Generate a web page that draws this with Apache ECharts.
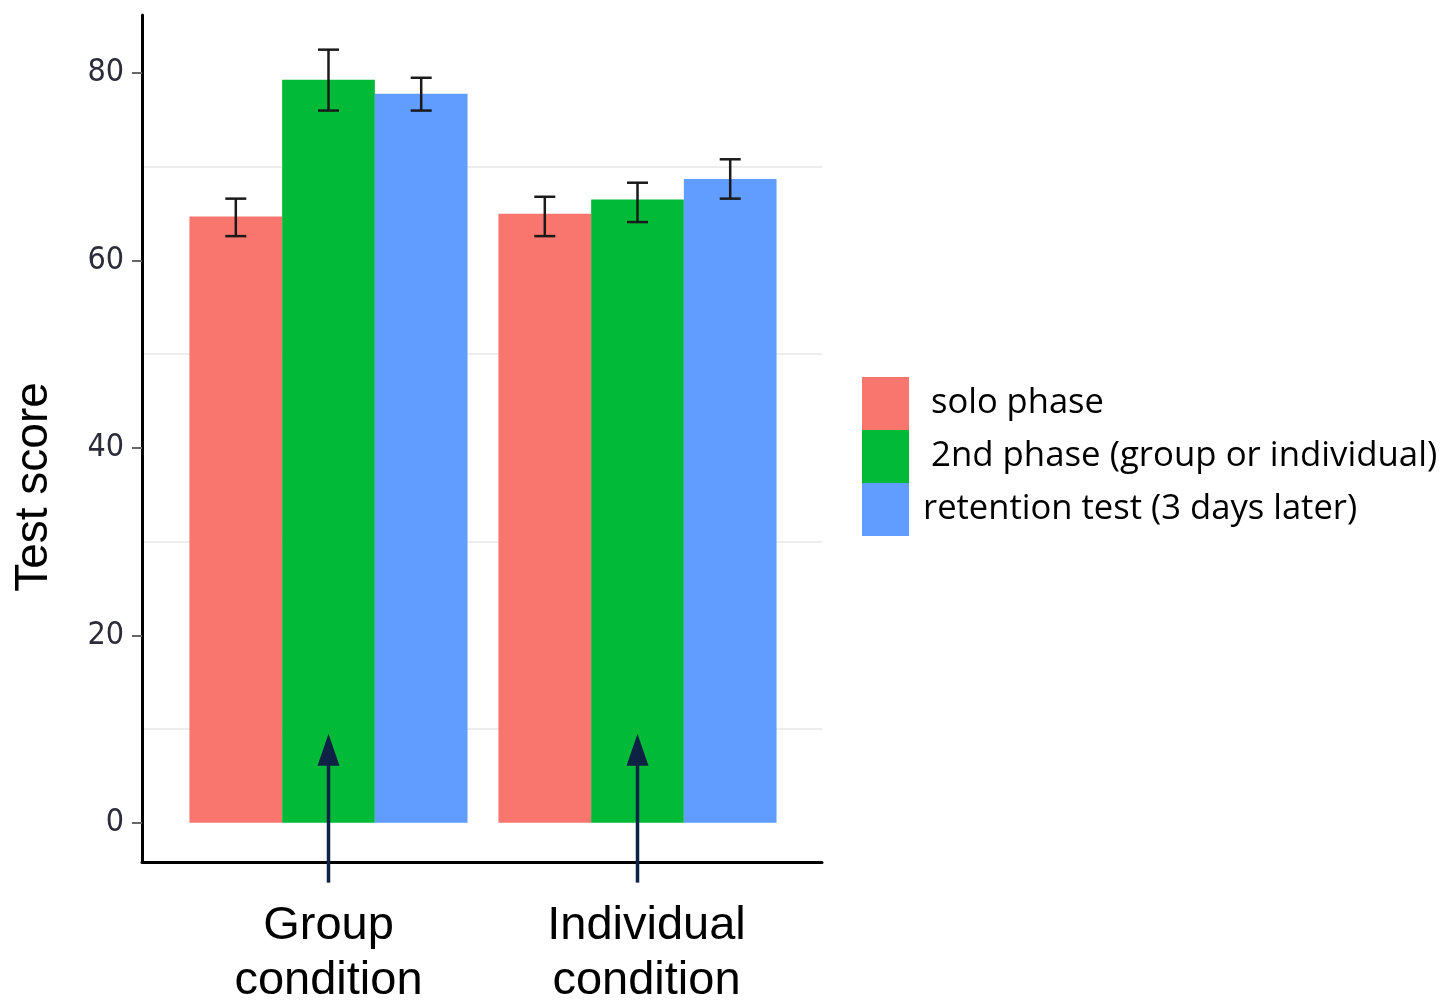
<!DOCTYPE html>
<html>
<head>
<meta charset="utf-8">
<script src="https://cdn.jsdelivr.net/npm/echarts@6/dist/echarts.min.js"></script>
<style>
  html, body { margin: 0; padding: 0; background: #fff; }
  #chart { width: 1441px; height: 1000px; }
</style>
</head>
<body>
<div id="chart"></div>
<script>
// data
const categories = ['Group\ncondition', 'Individual\ncondition']
const phases = ['solo phase', '2nd phase (group or individual)', 'retention test (3 days later)']
const soloMean = [64.7, 65.0]
const secondMean = [79.3, 66.5]
const retentionMean = [77.8, 68.7]
const soloLow = [62.6, 62.6]
const soloHigh = [66.6, 66.8]
const secondLow = [76.0, 64.1]
const secondHigh = [82.5, 68.3]
const retentionLow = [76.0, 66.6]
const retentionHigh = [79.5, 70.8]
const yTicks = [0, 20, 40, 60, 80]
const gridValues = [10, 30, 50, 70]
// arrows under the green bars: [tip, tail] in score units
const arrowTip = [9.5, 9.5]
const arrowTail = [-6.4, -6.4]

const yMin = -4.2
const yMax = 86.2
const colors = ['#F8766D', '#00BA38', '#619CFF']

const means = [soloMean, secondMean, retentionMean]
const lows = [soloLow, secondLow, retentionLow]
const highs = [soloHigh, secondHigh, retentionHigh]

const chart = echarts.init(document.getElementById('chart'))

// error bar drawn at bar k's slot
const errorSeries = (k) => ({
  type: 'custom',
  xAxisIndex: 1,
  yAxisIndex: 2,
  z: 5,
  silent: true,
  renderItem: (params, api) => {
    const band = api.size([1, 0])[0]
    const bw = band * 0.3
    const c = api.coord([api.value(0), 0])[0] + (k - 1) * bw
    const top = api.coord([api.value(0), api.value(2)])[1]
    const bot = api.coord([api.value(0), api.value(1)])[1]
    const half = 10.5
    const style = { stroke: '#1a1a1a', lineWidth: 2.5, fill: null }
    return {
      type: 'group',
      children: [
        { type: 'line', shape: { x1: c, y1: top, x2: c, y2: bot }, style },
        { type: 'line', shape: { x1: c - half, y1: top, x2: c + half, y2: top }, style },
        { type: 'line', shape: { x1: c - half, y1: bot, x2: c + half, y2: bot }, style }
      ]
    }
  },
  data: categories.map((c, i) => [i, lows[k][i], highs[k][i]])
})

const barSeries = phases.map((name, k) => ({
  name,
  type: 'bar',
  xAxisIndex: 1,
  yAxisIndex: 2,
  barWidth: '30%',
  barGap: '0%',
  itemStyle: { color: colors[k] },
  silent: true,
  data: means[k]
}))

const arrowSeries = {
  type: 'custom',
  xAxisIndex: 1,
  yAxisIndex: 2,
  z: 6,
  silent: true,
  clip: false,
  renderItem: (params, api) => {
    const x = api.coord([api.value(0), 0])[0]
    const tip = api.coord([api.value(0), api.value(1)])[1]
    const tail = api.coord([api.value(0), api.value(2)])[1]
    const headLen = 32
    const headHalf = 11
    return {
      type: 'group',
      children: [
        {
          type: 'line',
          shape: { x1: x, y1: tip + headLen - 2, x2: x, y2: tail },
          style: { stroke: '#0d2244', lineWidth: 3.5 }
        },
        {
          type: 'polygon',
          shape: { points: [[x, tip], [x - headHalf, tip + headLen], [x + headHalf, tip + headLen]] },
          style: { fill: '#0d2244' }
        }
      ]
    }
  },
  data: categories.map((c, i) => [i, arrowTip[i], arrowTail[i]])
}

const legendText = {
  fontFamily: 'Open Sans',
  fontSize: 34.8,
  color: '#000',
  lineHeight: 40
}

chart.setOption({
  animation: false,
  grid: [
    { left: 142, top: 15, width: 680, height: 847, outerBoundsMode: 'none', containLabel: false },
    { left: 174, top: 15, width: 618, height: 847, outerBoundsMode: 'none', containLabel: false }
  ],
  legend: {
    data: [
      { name: phases[0], textStyle: { ...legendText, fontSize: 34.5, padding: [8, 0, 0, 17] } },
      { name: phases[1], textStyle: { ...legendText, padding: [12, 0, 0, 17] } },
      { name: phases[2], textStyle: { ...legendText, fontSize: 34.6, padding: [0, 0, 0, 9] } }
    ],
    orient: 'vertical',
    left: 862,
    top: 377,
    padding: 0,
    itemWidth: 47,
    itemHeight: 53,
    itemGap: 0,
    icon: 'rect',
    selectedMode: false,
    textStyle: legendText
  },
  xAxis: [
    {
      type: 'value',
      gridIndex: 0,
      min: 0,
      max: 1,
      axisLine: { show: true, onZero: false, lineStyle: { color: '#000', width: 3 } },
      axisTick: { show: false },
      axisLabel: { show: false },
      splitLine: { show: false }
    },
    {
      type: 'category',
      gridIndex: 1,
      data: categories,
      axisLine: { show: false, onZero: false },
      axisTick: { show: false },
      axisLabel: {
        interval: 0,
        margin: 37,
        color: '#000',
        fontFamily: 'Liberation Sans',
        fontSize: 47,
        lineHeight: 55,
        formatter: (value, idx) => {
          const lines = value.split('\n')
          const key = idx === 1 ? 'shift' : 'plain'
          return lines.map((l) => `{${key}|${l}}`).join('\n')
        },
        rich: {
          plain: { fontFamily: 'Liberation Sans', fontSize: 47, lineHeight: 55, color: '#000' },
          shift: { fontFamily: 'Liberation Sans', fontSize: 47, lineHeight: 55, color: '#000', padding: [0, 0, 0, 18] }
        }
      }
    }
  ],
  yAxis: [
    {
      type: 'value',
      gridIndex: 0,
      min: yMin,
      max: yMax,
      name: 'Test score',
      nameLocation: 'middle',
      nameGap: 85,
      nameTextStyle: {
        fontFamily: 'Liberation Sans',
        fontSize: 46,
        color: '#000',
        padding: [0, 97, 0, 0]
      },
      axisLine: { show: true, onZero: false, lineStyle: { color: '#000', width: 3 } },
      axisTick: { show: true, length: 10, customValues: yTicks, lineStyle: { color: '#666', width: 2 } },
      axisLabel: {
        customValues: yTicks,
        margin: 18,
        color: '#2b2b3a',
        fontWeight: 500,
        fontFamily: '"Liberation Sans Narrow", "DejaVu Sans Condensed", "Liberation Sans", sans-serif',
        fontSize: 32
      },
      splitLine: { show: false }
    },
    {
      type: 'value',
      gridIndex: 0,
      position: 'right',
      min: yMin,
      max: yMax,
      axisLine: { show: false },
      axisTick: { show: false, customValues: gridValues },
      axisLabel: { show: false },
      splitLine: { show: true, lineStyle: { color: '#ededed', width: 2 } }
    },
    {
      type: 'value',
      gridIndex: 1,
      min: yMin,
      max: yMax,
      show: false,
      splitLine: { show: false }
    }
  ],
  series: [
    ...barSeries,
    errorSeries(0),
    errorSeries(1),
    errorSeries(2),
    arrowSeries
  ]
})
</script>
</body>
</html>
